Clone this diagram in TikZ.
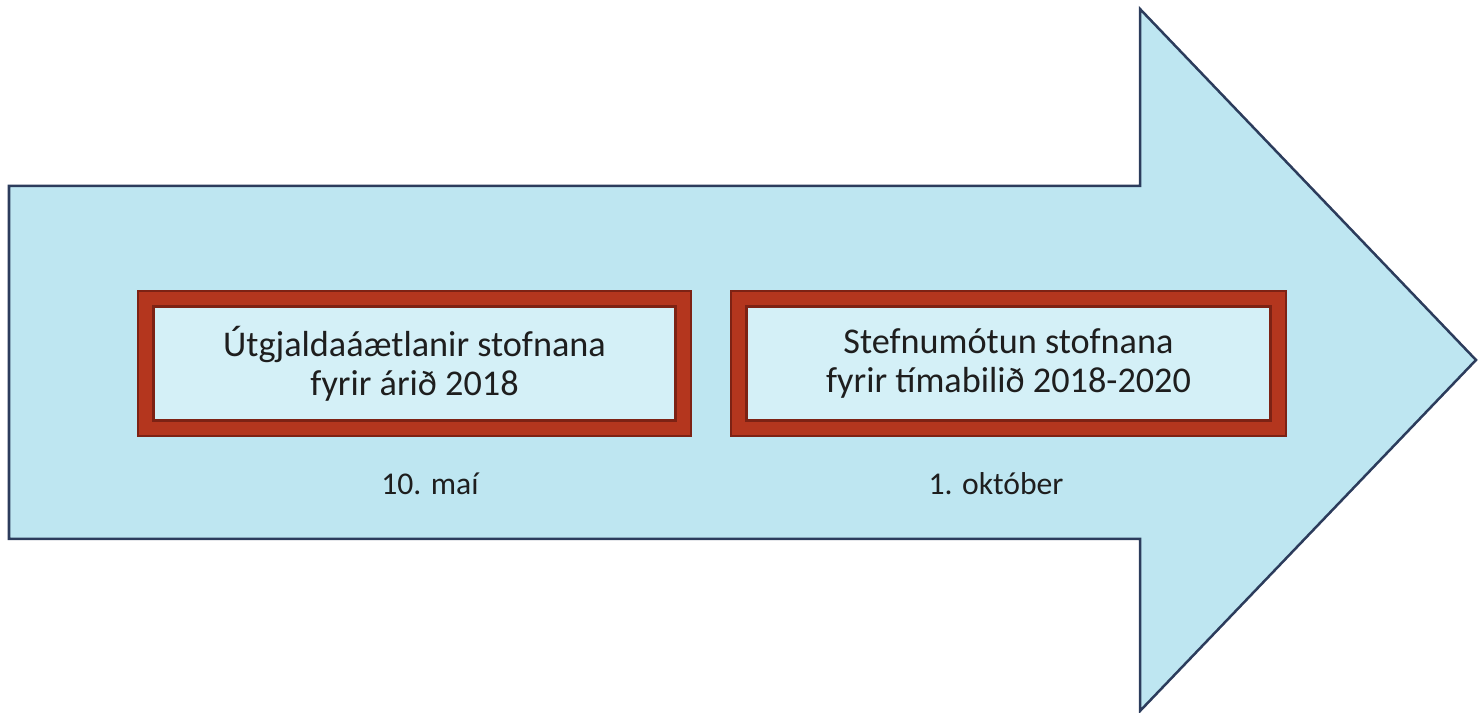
\documentclass[tikz,border=0pt]{standalone}
\usepackage{fontspec}
\setmainfont{Carlito}
\usetikzlibrary{positioning}
\definecolor{arrowblue}{RGB}{190,230,241}
\definecolor{boxblue}{RGB}{212,240,247}
\definecolor{edgenavy}{RGB}{44,60,92}
\definecolor{framered}{RGB}{125,34,20}
\definecolor{framelight}{RGB}{180,54,30}
\definecolor{textgray}{RGB}{30,30,30}

\begin{document}
\begin{tikzpicture}[x=0.01cm,y=-0.01cm]
\tikzstyle{stagebox} = [
	shape=rectangle,
	draw=framered, %dark rim of the frame
	line width=0.18cm,
	fill=boxblue,
	text=textgray,
	align=center,
	font=\fontsize{10.3pt}{11.1pt}\selectfont,
	minimum height=1.29cm,
	inner sep=0pt,
	postaction={draw=framelight, line width=0.13cm}
];
\tikzstyle{datelabel} = [
	text=textgray,
	font=\fontsize{9pt}{10.8pt}\selectfont,
	inner sep=0pt
];

\useasboundingbox (0,0) rectangle (1478,713);

%the big arrow
\draw[fill=arrowblue, draw=edgenavy, line width=0.25mm, line join=miter]
	(9,186) -- (1140,186) -- (1140,9) -- (1476,360) -- (1140,711)
	-- (1140,539) -- (9,539) -- cycle;

%the two stages
\node[stagebox, minimum width=5.37cm](budget) at (414.5,363.5)
	{Útgjaldaáætlanir stofnana\\fyrir árið 2018};
\node[stagebox, minimum width=5.39cm](policy) at (1008.5,363.5)
	{Stefnumótun stofnana\\fyrir tímabilið 2018-2020};

%deadlines
\node[datelabel](may) at (430,484) {10. maí};
\node[datelabel](oct) at (996,484) {1. október};

\end{tikzpicture}
\end{document}
